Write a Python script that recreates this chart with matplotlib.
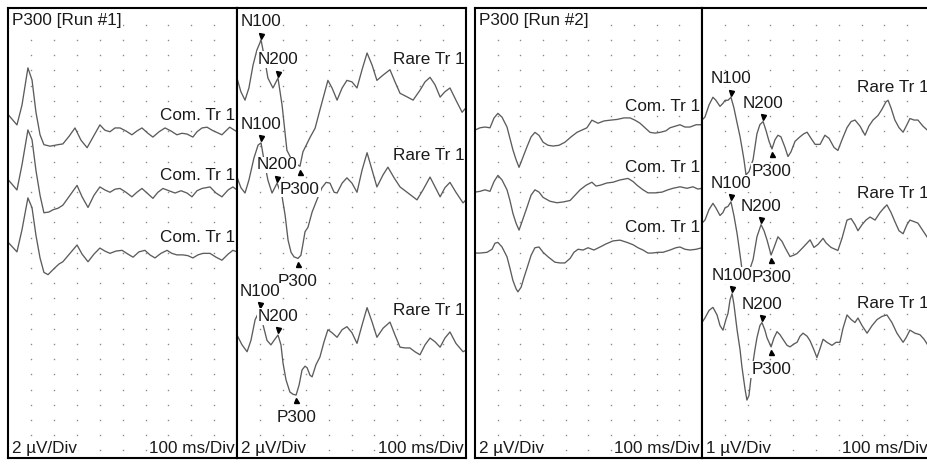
import numpy as np
import matplotlib
matplotlib.use('Agg')
import matplotlib.pyplot as plt

plt.rcParams['font.family'] = ['Liberation Sans', 'DejaVu Sans']

# Run 1, frequent stimulus (2 uV/Div), latency in ms, amplitude in uV (negative up)
run1_com1_ms = [0, 37, 59, 85, 103, 120, 138, 155, 182, 217, 238, 265, 291, 317, 344, 370, 400, 422, 444, 466,
                488, 514, 540, 562, 584, 610, 632, 659, 685, 711, 737, 759, 781, 807, 825, 847, 869, 891, 934, 968, 1000]
run1_com1_uv = [0, 1.3, -1.3, -6.2, -4.6, -0.4, 2.6, 3.9, 4.1, 3.9, 3.8, 2.8, 1.7, 3.3, 4.3, 2.9, 1.3, 2.0, 2.2, 1.7,
                1.7, 2.1, 2.6, 2.1, 1.7, 2.4, 2.9, 2.2, 1.7, 2.1, 2.6, 2.4, 2.5, 2.9, 2.2, 1.7, 1.6, 2.0, 2.6, 1.6, 2.2]
run1_com2_ms = [0, 37, 59, 85, 103, 120, 138, 155, 177, 195, 217, 238, 269, 300, 322, 348, 374, 400, 422, 444,
                466, 488, 514, 540, 562, 584, 610, 632, 654, 676, 702, 729, 755, 781, 803, 825, 847, 882, 908, 934,
                961, 982, 1000]
run1_com2_uv = [0, 1.3, -2.0, -6.6, -5.3, -1.3, 2.0, 4.3, 4.2, 3.9, 3.7, 3.3, 2.0, 0.7, 2.2, 3.6, 2.0, 0.9, 1.3, 1.6,
                1.2, 1.1, 1.6, 2.2, 1.6, 1.1, 1.8, 2.4, 1.6, 1.1, 1.4, 1.7, 1.4, 1.7, 2.2, 1.4, 1.1, 0.9, 1.7, 2.2,
                1.3, 0.9, 1.3]
run1_com3_ms = [0, 37, 59, 85, 103, 120, 138, 155, 173, 203, 221, 238, 269, 300, 322, 348, 374, 400, 422, 444,
                470, 497, 523, 545, 571, 597, 619, 641, 667, 694, 715, 737, 764, 785, 807, 829, 851, 882, 908, 934,
                961, 982, 1000]
run1_com3_uv = [-0.3, 0.9, -2.0, -6.2, -4.9, -1.3, 1.7, 3.6, 3.9, 3.0, 2.5, 2.2, 1.1, 0, 1.2, 2.2, 1.2, 0.4, 0.8, 1.1,
                0.8, 0.7, 1.2, 1.6, 0.9, 0.7, 1.3, 1.7, 1.1, 0.7, 1.1, 1.3, 1.3, 1.4, 1.7, 1.3, 1.1, 1.1, 1.6, 2.0,
                1.2, 0.7, 0.9]

# Run 1, rare stimulus (2 uV/Div)
run1_rare1_ms = [0, 17, 35, 52, 70, 87, 105, 118, 135, 157, 179, 197, 218, 240, 253, 275, 288, 306, 319, 341,
                 362, 380, 397, 415, 437, 459, 480, 502, 524, 546, 568, 590, 611, 638, 668, 690, 712, 738, 769, 799,
                 821, 843, 865, 887, 908, 930, 956, 983, 1000]
run1_rare1_uv = [0, 1.8, 2.9, 1.3, -1.7, -3.7, -5.0, -3.0, 0, 1.3, 0, 3.6, 9.5, 10.8, 11.2, 11.6, 9.7, 8.6, 7.8, 6.6,
                 4.2, 2.2, 0.3, 1.3, 2.9, 1.3, 0.3, 0.5, 1.3, -1.1, -3.3, -1.7, 0.3, -0.4, -1.1, 0.5, 2.0, 2.4, 2.9, 1.6,
                 0.5, -0.1, 0.9, 2.5, 1.8, 1.3, 2.9, 4.5, 3.9]
run1_rare2_ms = [0, 17, 35, 52, 74, 92, 105, 118, 135, 153, 175, 197, 210, 223, 236, 249, 266, 279, 288, 297,
                 310, 328, 349, 371, 389, 406, 424, 437, 459, 480, 502, 524, 546, 568, 590, 611, 638, 659, 686, 712,
                 747, 786, 812, 843, 865, 887, 908, 930, 956, 987, 1000]
run1_rare2_uv = [0, 1.4, 2.1, 0.4, -2.5, -4.2, -4.5, -2.2, 0.4, 2.1, 0.8, 2.6, 5.0, 8.3, 9.9, 10.5, 10.7, 10.3, 8.8, 7.2,
                 6.6, 4.6, 3.0, 1.4, 0.7, 0.8, 2.0, 2.1, 0.8, 0.1, 0.8, 2.0, -0.9, -3.2, -0.9, 1.3, -0.3, -1.3, 0.1, 1.3,
                 2.1, 3.0, 1.7, 0, 1.3, 2.6, 1.4, 0.7, 2.0, 3.4, 3.0]
run1_rare3_ms = [0, 22, 44, 61, 79, 100, 114, 131, 148, 162, 179, 192, 201, 214, 231, 245, 258, 271, 284, 297,
                 306, 319, 328, 345, 362, 380, 397, 415, 437, 459, 480, 502, 524, 546, 568, 590, 611, 638, 668, 690,
                 712, 734, 755, 777, 799, 821, 843, 865, 887, 908, 930, 956, 987, 1000]
run1_rare3_uv = [0, 1.3, 2.2, 0.7, -2.0, -3.3, -1.3, 0.7, 1.3, 0.7, 0, 1.3, 3.7, 5.9, 7.5, 7.8, 7.9, 6.6, 4.6, 4.1,
                 4.3, 5.3, 5.5, 3.9, 2.9, 0.9, -0.7, -0.3, 0.3, -0.7, -1.1, -0.3, 1.1, -1.3, -3.6, -1.7, 0.3, -0.9, -1.7, 0,
                 1.6, 1.7, 1.7, 2.2, 2.6, 1.3, 0.4, 0.9, 1.6, 0.4, -0.4, 1.1, 2.2, 2.0]
run1_rare_peaks = [[105, 179, 275], [105, 175, 266], [100, 179, 258]]

# Run 2, frequent stimulus (2 uV/Div)
run2_com1_ms = [0, 22, 44, 66, 84, 101, 119, 141, 154, 167, 181, 194, 207, 229, 247, 264, 282, 300, 322, 344,
                370, 396, 423, 449, 471, 493, 515, 542, 568, 595, 626, 656, 683, 705, 727, 749, 771, 793, 815, 841,
                859, 881, 903, 925, 947, 974, 1000]
run2_com1_uv = [0, -0.3, -0.4, -0.3, -1.6, -2.2, -1.7, -0.4, 1.1, 2.6, 3.9, 4.9, 3.9, 2.2, 0.9, 0.3, 0.7, 1.6, 2.0, 2.1,
                2.0, 1.6, 0.9, 0.3, 0, -0.3, -1.3, -0.9, -1.2, -1.3, -1.4, -1.6, -1.6, -1.3, -0.9, -0.3, 0.3, 0.4, 0.3, 0.1,
                -0.3, -0.5, -0.7, -0.4, -0.4, -0.7, -0.7]
run2_com2_ms = [0, 22, 44, 66, 84, 101, 119, 141, 154, 167, 181, 194, 207, 229, 247, 264, 282, 300, 330, 361,
                388, 419, 441, 463, 489, 515, 533, 551, 581, 608, 639, 674, 696, 714, 740, 762, 793, 824, 850, 872,
                903, 934, 960, 982, 1000]
run2_com2_uv = [0, -0.1, -0.3, -0.1, -1.4, -2.2, -1.6, -0.3, 1.1, 2.8, 4.1, 5.0, 3.9, 2.0, 0.4, -0.3, 0, 0.7, 1.2, 1.4,
                1.3, 1.1, 0.4, -0.3, -0.9, -1.3, -0.8, -0.9, -1.2, -1.3, -1.6, -1.8, -1.4, -0.9, -0.3, 0.1, 0.1, 0, -0.3, -0.5,
                -0.7, -0.5, -0.7, -0.4, -0.5]
run2_com3_ms = [0, 22, 53, 75, 88, 101, 119, 141, 154, 167, 181, 189, 203, 216, 229, 247, 264, 282, 300, 322,
                352, 374, 396, 419, 436, 454, 476, 498, 524, 551, 577, 608, 639, 670, 696, 718, 740, 762, 780, 806,
                828, 859, 885, 903, 925, 947, 974, 1000]
run2_com3_uv = [0, 0, -0.1, -0.5, -1.3, -1.4, -0.8, 0.5, 2.0, 3.6, 4.7, 5.1, 4.5, 3.2, 2.0, 0.3, -0.7, -0.8, -0.1, 0.5,
                1.2, 1.3, 1.3, 0.7, -0.1, -0.5, -0.4, -0.7, -0.4, -0.8, -1.2, -1.6, -1.7, -1.4, -1.1, -0.7, -0.4, 0, 0, -0.1,
                -0.1, -0.4, -0.7, -0.8, -0.5, -0.4, -0.5, -0.7]

# Run 2, rare stimulus (1 uV/Div)
run2_rare1_ms = [0, 13, 31, 48, 61, 79, 92, 101, 114, 127, 140, 154, 167, 175, 184, 193, 206, 224, 241, 254,
                 268, 281, 294, 307, 320, 333, 346, 364, 377, 390, 408, 430, 447, 461, 478, 496, 518, 539, 557, 579,
                 596, 614, 636, 654, 671, 693, 715, 732, 750, 772, 789, 807, 816, 829, 846, 864, 882, 899, 912, 930,
                 947, 969, 991]
run2_rare1_uv = [0.2, 0, -0.8, -1.3, -1.1, -0.7, -0.9, -1.1, -1.1, -1.3, -0.6, 0.4, 1.3, 2.0, 2.8, 3.8, 3.6, 2.8, 1.1, 0.5,
                 0.3, 0.9, 1.6, 2.1, 1.5, 1.2, 1.3, 2.0, 2.6, 2.3, 1.6, 1.3, 1.1, 1.0, 1.4, 1.8, 1.8, 1.2, 1.4, 2.0,
                 2.2, 1.5, 0.7, 0.3, 0.2, 0.6, 1.2, 0.6, 0.2, -0.1, -0.5, -1.0, -1.1, -0.6, 0.2, 0.7, 1.0, 0.5, 0.1, 0.2,
                 0.2, 0.6, 0.9]
run2_rare2_ms = [0, 13, 31, 48, 61, 79, 92, 101, 114, 127, 140, 154, 167, 175, 189, 206, 224, 241, 259, 272,
                 285, 303, 316, 333, 351, 364, 386, 404, 417, 443, 474, 491, 509, 531, 544, 566, 596, 614, 636, 654,
                 671, 684, 702, 719, 737, 759, 781, 798, 811, 829, 846, 864, 882, 899, 912, 930, 947, 969, 991]
run2_rare2_uv = [0.2, 0, -0.7, -1.1, -0.8, -0.3, -0.5, -0.8, -0.9, -1.2, -0.3, 0.9, 2.3, 3.2, 3.6, 3.4, 2.6, 1.1, 0.3, 0.7,
                 1.3, 2.3, 1.8, 1.1, 1.4, 1.8, 2.4, 2.3, 2.2, 1.8, 1.3, 1.8, 1.6, 1.2, 1.5, 1.8, 2.0, 1.2, 0, -0.1,
                 0.3, 0.7, 0.3, 0, -0.2, 0, -0.5, -0.8, -1.0, -0.5, 0.1, 0.7, 0.9, 0.3, 0, 0.1, 0.2, 0.7, 1.2]
run2_rare3_ms = [0, 13, 31, 48, 66, 79, 92, 105, 114, 123, 132, 140, 154, 167, 175, 189, 197, 206, 219, 232,
                 241, 254, 263, 276, 285, 303, 316, 329, 342, 355, 373, 386, 404, 417, 430, 443, 461, 474, 491, 504,
                 518, 531, 548, 570, 588, 605, 618, 636, 654, 671, 684, 702, 724, 746, 768, 789, 811, 833, 855, 882,
                 895, 912, 934, 956, 974, 991]
run2_rare3_uv = [0.3, 0, -0.5, -0.7, -0.2, 0.5, 0.8, 0.1, -0.3, -1.2, -1.6, -0.9, 0.8, 2.1, 3.2, 4.7, 5.4, 5.1, 3.4, 2.1,
                 1.3, 0.5, 0.3, 0.8, 1.3, 1.9, 1.3, 0.9, 1.1, 1.4, 1.8, 1.9, 1.7, 1.6, 1.2, 1.0, 1.2, 1.5, 2.1, 2.6,
                 2.0, 1.4, 1.6, 1.8, 1.6, 1.6, 0.7, -0.2, 0.1, 0.3, 0, 0.5, 1.0, 0.5, 0.1, -0.1, -0.2, 0.3, 1.0, 1.6,
                 1.3, 0.8, 1.0, 1.1, 1.4, 1.8]
run2_rare_peaks = [[127, 268, 307], [127, 259, 303], [132, 263, 303]]

peak_names = ['N100', 'N200', 'P300']

FIG_W, FIG_H = 928, 467
N_DIV_Y = 29.6
TRACE_COLOR = '#5c5c5c'
TEXT_COLOR = '#1a1a1a'
FS = 12.3
WHITE = dict(boxstyle='square,pad=0.05', fc='white', ec='none')


def draw_panel(ax, traces, bases, scale, name, name_rows, peaks=None, title=None):
    ax.set_xlim(0, 1000)
    ax.set_ylim(N_DIV_Y, 0)
    ax.set_xticks([])
    ax.set_yticks([])
    for s in ax.spines.values():
        s.set_linewidth(1.5)
        s.set_color('black')
        s.set_zorder(8)

    # dotted grid, 100 ms by 1 division
    gx, gy = np.meshgrid(np.arange(100, 1000, 100), np.arange(1.1, 29.2, 1.0))
    ax.plot(gx.ravel(), gy.ravel(), ls='none', marker='s', ms=1.0, mew=0,
            color='#8a8a8a', zorder=1)

    for i, (ms, uv) in enumerate(traces):
        y = bases[i] + np.asarray(uv) / scale
        ax.plot(ms, y, color=TRACE_COLOR, lw=0.95, zorder=2)
        ax.text(992, name_rows[i], name, ha='right', va='center', fontsize=FS,
                color=TEXT_COLOR, bbox=WHITE, zorder=5)
        if peaks is None:
            continue
        for label, lat in zip(peak_names, peaks[i]):
            yp = y[ms.index(lat)]
            if label.startswith('N'):
                ax.plot(lat, yp - 0.3, marker='v', ms=3.6, color='black', zorder=4)
                ax.text(lat, yp - 1.2, label, ha='center', va='center', fontsize=FS,
                        color=TEXT_COLOR, bbox=WHITE, zorder=5)
            else:
                ax.plot(lat, yp + 0.35, marker='^', ms=3.6, color='black', zorder=4)
                ax.text(lat, yp + 1.5, label, ha='center', va='center', fontsize=FS,
                        color=TEXT_COLOR, bbox=WHITE, zorder=5)

    if title:
        ax.text(16, 0.8, title, ha='left', va='center', fontsize=FS,
                color=TEXT_COLOR, bbox=WHITE, zorder=5)
    ax.text(16, 29.0, '%g µV/Div' % scale, ha='left', va='center', fontsize=FS,
            color=TEXT_COLOR, bbox=WHITE, zorder=5)
    ax.text(990, 29.0, '100 ms/Div', ha='right', va='center', fontsize=FS,
            color=TEXT_COLOR, bbox=WHITE, zorder=5)


def main():
    fig = plt.figure(figsize=(FIG_W / 100, FIG_H / 100), dpi=100)
    bottom = (FIG_H - 458) / FIG_H
    height = 450 / FIG_H
    lefts = [8.5, 237, 475, 702]
    widths = [228.5, 229, 227, 228]
    axs = [fig.add_axes([l / FIG_W, bottom, w / FIG_W, height]) for l, w in zip(lefts, widths)]

    draw_panel(axs[0],
               [(run1_com1_ms, run1_com1_uv), (run1_com2_ms, run1_com2_uv), (run1_com3_ms, run1_com3_uv)],
               [7.04, 11.32, 15.59], 2, 'Com. Tr 1', [7.04, 10.99, 15.07], title='P300 [Run #1]')
    draw_panel(axs[1],
               [(run1_rare1_ms, run1_rare1_uv), (run1_rare2_ms, run1_rare2_uv), (run1_rare3_ms, run1_rare3_uv)],
               [4.61, 11.12, 21.51], 2, 'Rare Tr 1', [3.42, 9.67, 19.87], peaks=run1_rare_peaks)
    draw_panel(axs[2],
               [(run2_com1_ms, run2_com1_uv), (run2_com2_ms, run2_com2_uv), (run2_com3_ms, run2_com3_uv)],
               [8.03, 12.11, 16.12], 2, 'Com. Tr 1', [6.51, 10.46, 14.47], title='P300 [Run #2]')
    draw_panel(axs[3],
               [(run2_rare1_ms, run2_rare1_uv), (run2_rare2_ms, run2_rare2_uv), (run2_rare3_ms, run2_rare3_uv)],
               [7.17, 13.95, 20.39], 1, 'Rare Tr 1', [5.26, 12.17, 19.41], peaks=run2_rare_peaks)

    fig.savefig('out.png', dpi=100, facecolor='white')


if __name__ == '__main__':
    main()
